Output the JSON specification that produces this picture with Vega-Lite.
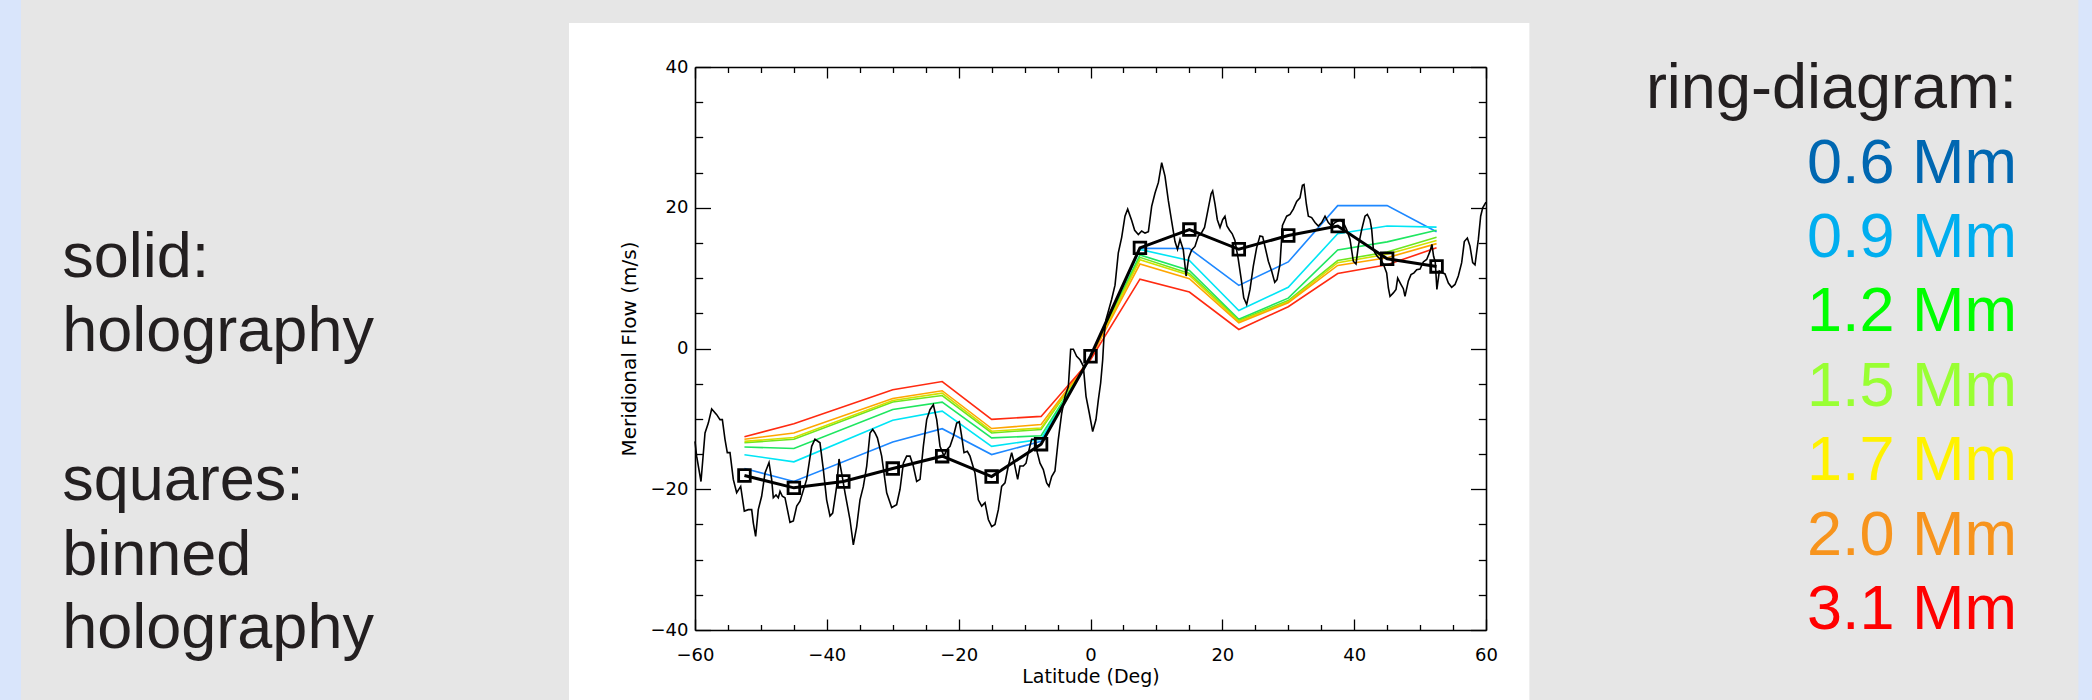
{
  "$schema": "https://vega.github.io/schema/vega-lite/v6.json",
  "width": 791,
  "height": 563,
  "autosize": {"type": "none"},
  "padding": {"left": 695, "top": 67, "right": 606, "bottom": 70},
  "background": "#e6e6e6",
  "config": {"view": {"stroke": null}},
  "datasets": {
    "holo": [
      {"lat":-60.0,"v":-13.2},{"lat":-59.75,"v":-15.3},{"lat":-59.09,"v":-18.9},{"lat":-58.48,"v":-12.0},{"lat":-57.98,"v":-10.6},{"lat":-57.47,"v":-8.6},{"lat":-56.71,"v":-9.4},{"lat":-56.21,"v":-10.1},{"lat":-55.85,"v":-10.1},{"lat":-55.45,"v":-12.9},{"lat":-55.1,"v":-14.8},{"lat":-54.69,"v":-14.8},{"lat":-54.19,"v":-18.6},{"lat":-53.68,"v":-20.5},{"lat":-53.07,"v":-19.6},{"lat":-52.52,"v":-23.1},{"lat":-51.91,"v":-22.9},{"lat":-51.4,"v":-22.9},{"lat":-51.15,"v":-24.8},{"lat":-50.8,"v":-26.7},{"lat":-50.4,"v":-22.9},{"lat":-49.89,"v":-21.0},{"lat":-49.38,"v":-17.7},{"lat":-48.77,"v":-16.2},{"lat":-48.37,"v":-18.6},{"lat":-48.12,"v":-21.2},{"lat":-47.71,"v":-20.8},{"lat":-47.36,"v":-21.2},{"lat":-47.1,"v":-20.3},{"lat":-46.75,"v":-21.0},{"lat":-46.35,"v":-21.2},{"lat":-45.59,"v":-24.7},{"lat":-45.08,"v":-24.5},{"lat":-44.57,"v":-22.4},{"lat":-44.07,"v":-21.7},{"lat":-43.06,"v":-18.6},{"lat":-42.3,"v":-13.9},{"lat":-41.8,"v":-12.9},{"lat":-41.04,"v":-13.4},{"lat":-40.53,"v":-17.2},{"lat":-40.03,"v":-21.5},{"lat":-39.52,"v":-23.8},{"lat":-39.11,"v":-23.4},{"lat":-38.51,"v":-19.6},{"lat":-38.15,"v":-15.7},{"lat":-37.75,"v":-17.7},{"lat":-37.24,"v":-20.5},{"lat":-36.49,"v":-24.3},{"lat":-35.98,"v":-27.9},{"lat":-35.47,"v":-25.3},{"lat":-34.97,"v":-21.5},{"lat":-34.46,"v":-19.6},{"lat":-33.95,"v":-16.7},{"lat":-33.45,"v":-12.0},{"lat":-33.04,"v":-11.5},{"lat":-32.69,"v":-12.0},{"lat":-32.33,"v":-12.7},{"lat":-31.68,"v":-15.3},{"lat":-30.92,"v":-20.5},{"lat":-30.16,"v":-22.6},{"lat":-29.41,"v":-22.2},{"lat":-28.9,"v":-20.0},{"lat":-28.39,"v":-16.3},{"lat":-27.89,"v":-15.3},{"lat":-27.38,"v":-15.3},{"lat":-26.88,"v":-16.7},{"lat":-26.37,"v":-18.9},{"lat":-25.86,"v":-18.6},{"lat":-25.36,"v":-13.9},{"lat":-24.85,"v":-10.1},{"lat":-24.35,"v":-8.7},{"lat":-23.84,"v":-8.0},{"lat":-23.33,"v":-10.1},{"lat":-22.83,"v":-13.9},{"lat":-22.22,"v":-15.3},{"lat":-21.82,"v":-14.4},{"lat":-21.31,"v":-13.9},{"lat":-20.81,"v":-12.5},{"lat":-20.3,"v":-10.6},{"lat":-19.9,"v":-10.4},
      {"lat":-19.54,"v":-12.5},{"lat":-19.19,"v":-14.8},{"lat":-18.69,"v":-14.6},{"lat":-18.28,"v":-15.3},{"lat":-17.52,"v":-17.7},{"lat":-17.02,"v":-21.5},{"lat":-16.51,"v":-22.4},{"lat":-16.0,"v":-21.9},{"lat":-15.5,"v":-24.3},{"lat":-14.99,"v":-25.3},{"lat":-14.49,"v":-25.0},{"lat":-13.98,"v":-22.9},{"lat":-13.48,"v":-19.6},{"lat":-12.97,"v":-19.1},{"lat":-12.47,"v":-16.7},{"lat":-11.96,"v":-14.8},{"lat":-11.56,"v":-16.3},{"lat":-11.05,"v":-18.6},{"lat":-10.7,"v":-16.7},{"lat":-10.19,"v":-16.7},{"lat":-9.78,"v":-16.3},{"lat":-9.43,"v":-14.8},{"lat":-8.93,"v":-12.9},{"lat":-8.42,"v":-12.9},{"lat":-8.07,"v":-14.8},{"lat":-7.66,"v":-16.3},{"lat":-7.16,"v":-17.2},{"lat":-6.65,"v":-19.1},{"lat":-6.3,"v":-19.6},{"lat":-5.89,"v":-18.2},{"lat":-5.39,"v":-17.4},{"lat":-4.88,"v":-12.9},{"lat":-4.37,"v":-9.2},{"lat":-3.87,"v":-6.8},{"lat":-3.36,"v":-5.4},{"lat":-3.01,"v":-0.1},{"lat":-2.6,"v":-0.1},{"lat":-2.1,"v":-1.1},{"lat":-1.59,"v":-1.6},{"lat":-1.09,"v":-2.5},{"lat":-0.68,"v":-6.8},{"lat":-0.18,"v":-9.2},{"lat":0.33,"v":-11.8},{"lat":0.83,"v":-10.1},{"lat":1.19,"v":-7.3},{"lat":1.54,"v":-4.9},{"lat":1.85,"v":-1.6},{"lat":2.05,"v":1.75},{"lat":2.35,"v":4.1},{"lat":2.71,"v":5.3},{"lat":3.21,"v":7.0},{"lat":3.72,"v":9.0},{"lat":4.22,"v":13.6},{"lat":4.73,"v":15.8},{"lat":5.23,"v":18.8},{"lat":5.64,"v":19.8},{"lat":6.25,"v":18.2},{"lat":6.7,"v":16.8},{"lat":7.26,"v":16.2},{"lat":7.76,"v":16.7},{"lat":8.27,"v":16.4},{"lat":8.78,"v":16.6},{"lat":9.28,"v":20.2},{"lat":9.79,"v":22.1},{"lat":10.3,"v":23.6},{"lat":10.8,"v":26.4},{"lat":11.3,"v":24.5},{"lat":11.81,"v":21.0},{"lat":12.31,"v":18.1},{"lat":12.82,"v":15.2},{"lat":13.2,"v":14.1},{"lat":13.58,"v":15.5},{"lat":14.08,"v":14.0},{"lat":14.5,"v":10.3},{"lat":14.9,"v":12.9},{"lat":15.35,"v":14.0},{"lat":15.85,"v":14.5},{"lat":16.36,"v":16.0},{"lat":16.71,"v":16.2},{"lat":17.3,"v":17.2},{"lat":17.8,"v":19.6},{"lat":18.3,"v":22.0},{"lat":18.53,"v":22.4},{"lat":18.89,"v":20.5},{"lat":19.24,"v":18.3},{"lat":19.65,"v":17.2},
      {"lat":20.05,"v":18.3},{"lat":20.4,"v":18.8},{"lat":20.7,"v":17.4},{"lat":21.1,"v":16.8},{"lat":21.5,"v":16.3},{"lat":21.9,"v":15.4},{"lat":22.4,"v":12.8},{"lat":22.9,"v":9.6},{"lat":23.25,"v":7.2},{"lat":23.69,"v":6.25},{"lat":24.2,"v":8.4},{"lat":24.7,"v":11.7},{"lat":25.2,"v":14.3},{"lat":25.71,"v":16.0},{"lat":26.12,"v":15.9},{"lat":26.47,"v":14.5},{"lat":26.98,"v":12.4},{"lat":27.48,"v":11.0},{"lat":27.95,"v":9.4},{"lat":28.3,"v":9.8},{"lat":28.75,"v":12.0},{"lat":29.12,"v":17.5},{"lat":29.51,"v":18.3},{"lat":29.76,"v":18.8},{"lat":30.27,"v":19.05},{"lat":30.77,"v":19.8},{"lat":31.28,"v":20.9},{"lat":31.78,"v":21.4},{"lat":32.15,"v":23.2},{"lat":32.39,"v":23.3},{"lat":32.75,"v":20.5},{"lat":33.05,"v":18.8},{"lat":33.55,"v":18.6},{"lat":34.06,"v":17.9},{"lat":34.56,"v":17.4},{"lat":35.07,"v":17.9},{"lat":35.58,"v":18.8},{"lat":36.08,"v":17.9},{"lat":36.59,"v":17.4},{"lat":37.09,"v":17.9},{"lat":37.85,"v":18.3},{"lat":38.36,"v":17.9},{"lat":38.86,"v":16.9},{"lat":39.37,"v":15.5},{"lat":39.87,"v":12.4},{"lat":40.28,"v":12.0},{"lat":40.63,"v":14.55},{"lat":41.14,"v":16.9},{"lat":41.64,"v":18.8},{"lat":42.0,"v":19.05},{"lat":42.4,"v":18.3},{"lat":42.66,"v":16.9},{"lat":42.91,"v":14.1},{"lat":43.16,"v":13.6},{"lat":43.5,"v":13.1},{"lat":44.0,"v":12.65},{"lat":44.43,"v":12.0},{"lat":44.93,"v":10.75},{"lat":45.19,"v":8.6},{"lat":45.44,"v":7.4},{"lat":45.94,"v":7.9},{"lat":46.35,"v":8.4},{"lat":46.6,"v":10.0},{"lat":47.05,"v":9.2},{"lat":47.46,"v":8.5},{"lat":47.71,"v":7.4},{"lat":48.22,"v":9.6},{"lat":48.62,"v":10.5},{"lat":49.08,"v":10.75},{"lat":49.48,"v":11.2},{"lat":49.99,"v":11.3},{"lat":50.49,"v":12.3},{"lat":51.0,"v":12.65},{"lat":51.5,"v":13.8},{"lat":51.8,"v":14.8},{"lat":52.05,"v":13.1},{"lat":52.3,"v":12.3},{"lat":52.55,"v":8.4},{"lat":52.92,"v":11.0},{"lat":53.3,"v":10.8},{"lat":53.78,"v":10.6},{"lat":54.29,"v":9.3},{"lat":54.79,"v":8.7},{"lat":55.3,"v":9.1},{"lat":55.8,"v":10.3},{"lat":56.31,"v":12.2},{"lat":56.71,"v":15.2},{"lat":57.17,"v":15.7},{"lat":57.57,"v":14.55},{"lat":57.98,"v":12.2},{"lat":58.33,"v":11.9},{"lat":58.84,"v":15.5},{"lat":59.19,"v":18.8},{"lat":59.5,"v":20.0},{"lat":60.0,"v":20.8}
    ],
    "binned": [
      {"lat":-52.5,"v":-18.05},{"lat":-45,"v":-19.8},{"lat":-37.5,"v":-18.9},{"lat":-30,"v":-17.06},{"lat":-22.5,"v":-15.3},{"lat":-15,"v":-18.2},{"lat":-7.5,"v":-13.6},{"lat":0,"v":-1.1},{"lat":7.5,"v":14.3},{"lat":15,"v":16.9},{"lat":22.5,"v":14.1},{"lat":30,"v":16.06},{"lat":37.5,"v":17.4},{"lat":45,"v":12.75},{"lat":52.5,"v":11.66}
    ],
    "ring": [
      {"depth":"0.6 Mm","lat":-52.5,"v":-17.05},{"depth":"0.6 Mm","lat":-45,"v":-18.9},{"depth":"0.6 Mm","lat":-30,"v":-13.3},{"depth":"0.6 Mm","lat":-22.5,"v":-11.4},{"depth":"0.6 Mm","lat":-15,"v":-15.07},{"depth":"0.6 Mm","lat":-7.5,"v":-13.2},{"depth":"0.6 Mm","lat":0,"v":-1.3},{"depth":"0.6 Mm","lat":7.5,"v":14.25},{"depth":"0.6 Mm","lat":15,"v":14.2},{"depth":"0.6 Mm","lat":22.5,"v":8.96},{"depth":"0.6 Mm","lat":30,"v":12.3},{"depth":"0.6 Mm","lat":37.5,"v":20.3},{"depth":"0.6 Mm","lat":45,"v":20.3},{"depth":"0.6 Mm","lat":52.5,"v":16.6},
      {"depth":"0.9 Mm","lat":-52.5,"v":-15.1},{"depth":"0.9 Mm","lat":-45,"v":-16.1},{"depth":"0.9 Mm","lat":-30,"v":-10.2},{"depth":"0.9 Mm","lat":-22.5,"v":-8.9},{"depth":"0.9 Mm","lat":-15,"v":-13.9},{"depth":"0.9 Mm","lat":-7.5,"v":-12.9},{"depth":"0.9 Mm","lat":0,"v":-1.3},{"depth":"0.9 Mm","lat":7.5,"v":14.07},{"depth":"0.9 Mm","lat":15,"v":12.5},{"depth":"0.9 Mm","lat":22.5,"v":5.4},{"depth":"0.9 Mm","lat":30,"v":8.7},{"depth":"0.9 Mm","lat":37.5,"v":16.3},{"depth":"0.9 Mm","lat":45,"v":17.4},{"depth":"0.9 Mm","lat":52.5,"v":17.25},
      {"depth":"1.2 Mm","lat":-52.5,"v":-14.0},{"depth":"1.2 Mm","lat":-45,"v":-14.2},{"depth":"1.2 Mm","lat":-30,"v":-8.67},{"depth":"1.2 Mm","lat":-22.5,"v":-7.63},{"depth":"1.2 Mm","lat":-15,"v":-12.7},{"depth":"1.2 Mm","lat":-7.5,"v":-12.4},{"depth":"1.2 Mm","lat":0,"v":-1.3},{"depth":"1.2 Mm","lat":7.5,"v":13.3},{"depth":"1.2 Mm","lat":15,"v":11.1},{"depth":"1.2 Mm","lat":22.5,"v":4.15},{"depth":"1.2 Mm","lat":30,"v":7.15},{"depth":"1.2 Mm","lat":37.5,"v":14.0},{"depth":"1.2 Mm","lat":45,"v":15.15},{"depth":"1.2 Mm","lat":52.5,"v":16.8},
      {"depth":"1.5 Mm","lat":-52.5,"v":-13.4},{"depth":"1.5 Mm","lat":-45,"v":-12.9},{"depth":"1.5 Mm","lat":-30,"v":-7.6},{"depth":"1.5 Mm","lat":-22.5,"v":-6.68},{"depth":"1.5 Mm","lat":-15,"v":-12.0},{"depth":"1.5 Mm","lat":-7.5,"v":-11.5},{"depth":"1.5 Mm","lat":0,"v":-1.3},{"depth":"1.5 Mm","lat":7.5,"v":12.95},{"depth":"1.5 Mm","lat":15,"v":10.66},{"depth":"1.5 Mm","lat":22.5,"v":3.98},{"depth":"1.5 Mm","lat":30,"v":6.82},{"depth":"1.5 Mm","lat":37.5,"v":12.5},{"depth":"1.5 Mm","lat":45,"v":13.7},{"depth":"1.5 Mm","lat":52.5,"v":15.8},
      {"depth":"1.7 Mm","lat":-52.5,"v":-13.2},{"depth":"1.7 Mm","lat":-45,"v":-12.65},{"depth":"1.7 Mm","lat":-30,"v":-7.4},{"depth":"1.7 Mm","lat":-22.5,"v":-6.35},{"depth":"1.7 Mm","lat":-15,"v":-11.75},{"depth":"1.7 Mm","lat":-7.5,"v":-11.3},{"depth":"1.7 Mm","lat":0,"v":-1.3},{"depth":"1.7 Mm","lat":7.5,"v":12.6},{"depth":"1.7 Mm","lat":15,"v":10.4},{"depth":"1.7 Mm","lat":22.5,"v":3.84},{"depth":"1.7 Mm","lat":30,"v":6.64},{"depth":"1.7 Mm","lat":37.5,"v":12.2},{"depth":"1.7 Mm","lat":45,"v":13.4},{"depth":"1.7 Mm","lat":52.5,"v":15.35},
      {"depth":"2.0 Mm","lat":-52.5,"v":-12.9},{"depth":"2.0 Mm","lat":-45,"v":-12.0},{"depth":"2.0 Mm","lat":-30,"v":-7.1},{"depth":"2.0 Mm","lat":-22.5,"v":-6.0},{"depth":"2.0 Mm","lat":-15,"v":-11.37},{"depth":"2.0 Mm","lat":-7.5,"v":-10.8},{"depth":"2.0 Mm","lat":0,"v":-1.4},{"depth":"2.0 Mm","lat":7.5,"v":12.0},{"depth":"2.0 Mm","lat":15,"v":9.92},{"depth":"2.0 Mm","lat":22.5,"v":3.65},{"depth":"2.0 Mm","lat":30,"v":6.5},{"depth":"2.0 Mm","lat":37.5,"v":11.8},{"depth":"2.0 Mm","lat":45,"v":12.9},{"depth":"2.0 Mm","lat":52.5,"v":14.9},
      {"depth":"3.1 Mm","lat":-52.5,"v":-12.55},{"depth":"3.1 Mm","lat":-45,"v":-10.7},{"depth":"3.1 Mm","lat":-30,"v":-5.87},{"depth":"3.1 Mm","lat":-22.5,"v":-4.69},{"depth":"3.1 Mm","lat":-15,"v":-10.07},{"depth":"3.1 Mm","lat":-7.5,"v":-9.65},{"depth":"3.1 Mm","lat":0,"v":-1.6},{"depth":"3.1 Mm","lat":7.5,"v":9.85},{"depth":"3.1 Mm","lat":15,"v":8.03},{"depth":"3.1 Mm","lat":22.5,"v":2.7},{"depth":"3.1 Mm","lat":30,"v":5.93},{"depth":"3.1 Mm","lat":37.5,"v":10.66},{"depth":"3.1 Mm","lat":45,"v":11.9},{"depth":"3.1 Mm","lat":52.5,"v":14.3}
    ]
  },
  "resolve": {"axis": {"x": "independent", "y": "independent"}},
  "layer": [
    {"data": {"values": [{}]}, "mark": {"type": "rect", "color": "#ffffff"},
     "encoding": {"x": {"datum": -79.115, "type": "quantitative", "scale": {"domain": [-60, 60], "nice": false, "zero": false}, "axis": null}, "x2": {"datum": 66.58},
                  "y": {"datum": 46.25, "type": "quantitative", "scale": {"domain": [-40, 40], "nice": false, "zero": false}, "axis": null}, "y2": {"datum": -55}}},
    {"data": {"values": [{}]}, "mark": {"type": "rect", "color": "#d9e5fb"},
     "encoding": {"x": {"datum": -175, "type": "quantitative", "scale": {"domain": [-60, 60], "nice": false, "zero": false}, "axis": null}, "x2": {"datum": -162.25},
                  "y": {"datum": 55, "type": "quantitative", "scale": {"domain": [-40, 40], "nice": false, "zero": false}, "axis": null}, "y2": {"datum": -55}}},
    {"data": {"values": [{}]}, "mark": {"type": "rect", "color": "#d9e5fb"},
     "encoding": {"x": {"datum": 149.87, "type": "quantitative", "scale": {"domain": [-60, 60], "nice": false, "zero": false}, "axis": null}, "x2": {"datum": 165},
                  "y": {"datum": 55, "type": "quantitative", "scale": {"domain": [-40, 40], "nice": false, "zero": false}, "axis": null}, "y2": {"datum": -55}}},
    {"data": {"name": "ring"}, "mark": {"type": "line", "strokeWidth": 1.6},
     "encoding": {
       "x": {"field": "lat", "type": "quantitative", "scale": {"domain": [-60, 60], "nice": false, "zero": false},
             "axis": {"orient": "top", "values": [-55,-50,-45,-35,-30,-25,-15,-10,-5,5,10,15,25,30,35,45,50,55], "tickSize": -5.5, "tickWidth": 1.3, "tickColor": "#000", "domain": false, "labels": false, "grid": false, "title": null, "zindex": 1}},
       "y": {"field": "v", "type": "quantitative", "scale": {"domain": [-40, 40], "nice": false, "zero": false},
             "axis": {"orient": "right", "values": [-35,-30,-25,-15,-10,-5,5,10,15,25,30,35], "tickSize": -7.7, "tickWidth": 1.3, "tickColor": "#000", "domain": false, "labels": false, "grid": false, "title": null, "zindex": 1}},
       "color": {"field": "depth", "type": "nominal", "legend": null,
                 "scale": {"domain": ["0.6 Mm","0.9 Mm","1.2 Mm","1.5 Mm","1.7 Mm","2.0 Mm","3.1 Mm"],
                           "range": ["#1e88ff","#00e5f5","#1ee660","#6ee61e","#d2e000","#ffa500","#ff2a10"]}}
     }},
    {"data": {"name": "holo"}, "mark": {"type": "line", "color": "#000000", "strokeWidth": 1.6},
     "encoding": {
       "x": {"field": "lat", "type": "quantitative", "scale": {"domain": [-60, 60], "nice": false, "zero": false},
             "axis": {"orient": "bottom", "values": [-60,-40,-20,0,20,40,60], "tickSize": -11, "tickWidth": 1.3, "tickColor": "#000", "domain": true, "domainColor": "#000", "domainWidth": 1.6,
                      "labelFont": "DejaVu Sans", "labelFontSize": 18, "labelColor": "#000", "labelPadding": 27, "labelFlush": false, "labelOverlap": false, "labelBound": false, "grid": false,
                      "title": "Latitude (Deg)", "titleFont": "DejaVu Sans", "titleFontSize": 19, "titleFontWeight": "normal", "titleColor": "#000", "titlePadding": 3, "zindex": 1}},
       "y": {"field": "v", "type": "quantitative", "scale": {"domain": [-40, 40], "nice": false, "zero": false},
             "axis": {"orient": "left", "values": [-40,-20,0,20,40], "tickSize": -15.5, "tickWidth": 1.3, "tickColor": "#000", "domain": true, "domainColor": "#000", "domainWidth": 1.6,
                      "labelFont": "DejaVu Sans", "labelFontSize": 18, "labelColor": "#000", "labelPadding": 22.5, "labelFlush": false, "labelOverlap": false, "labelBound": false, "grid": false,
                      "title": "Meridional Flow (m/s)", "titleFont": "DejaVu Sans", "titleFontSize": 20, "titleFontWeight": "normal", "titleColor": "#000", "titlePadding": 11, "zindex": 1}}
     }},
    {"data": {"name": "binned"}, "mark": {"type": "line", "color": "#000000", "strokeWidth": 3},
     "encoding": {
       "x": {"field": "lat", "type": "quantitative", "scale": {"domain": [-60, 60], "nice": false, "zero": false},
             "axis": {"orient": "bottom", "values": [-55,-50,-45,-35,-30,-25,-15,-10,-5,5,10,15,25,30,35,45,50,55], "tickSize": -5.5, "tickWidth": 1.3, "tickColor": "#000", "domain": false, "labels": false, "grid": false, "title": null, "zindex": 1}},
       "y": {"field": "v", "type": "quantitative", "scale": {"domain": [-40, 40], "nice": false, "zero": false},
             "axis": {"orient": "left", "values": [-35,-30,-25,-15,-10,-5,5,10,15,25,30,35], "tickSize": -7.7, "tickWidth": 1.3, "tickColor": "#000", "domain": false, "labels": false, "grid": false, "title": null, "zindex": 1}}
     }},
    {"data": {"name": "binned"}, "mark": {"type": "point", "shape": "square", "size": 135, "filled": false, "color": "#000000", "strokeWidth": 2.8, "opacity": 1},
     "encoding": {
       "x": {"field": "lat", "type": "quantitative", "scale": {"domain": [-60, 60], "nice": false, "zero": false},
             "axis": {"orient": "top", "values": [-60,-40,-20,0,20,40,60], "tickSize": -11, "tickWidth": 1.3, "tickColor": "#000", "domain": true, "domainColor": "#000", "domainWidth": 1.6, "labels": false, "grid": false, "title": null, "zindex": 1}},
       "y": {"field": "v", "type": "quantitative", "scale": {"domain": [-40, 40], "nice": false, "zero": false},
             "axis": {"orient": "right", "values": [-40,-20,0,20,40], "tickSize": -15.5, "tickWidth": 1.3, "tickColor": "#000", "domain": true, "domainColor": "#000", "domainWidth": 1.6, "labels": false, "grid": false, "title": null, "zindex": 1}}
     }},
    {"data": {"values": [{}]}, "mark": {"type": "text", "text": "solid:", "align": "left", "baseline": "alphabetic", "font": "Liberation Sans", "fontSize": 63, "color": "#231f20"},
     "encoding": {"x": {"datum": -156.0, "type": "quantitative", "scale": {"domain": [-60, 60], "nice": false, "zero": false}, "axis": null}, "y": {"datum": 10.2, "type": "quantitative", "scale": {"domain": [-40, 40], "nice": false, "zero": false}, "axis": null}}},
    {"data": {"values": [{}]}, "mark": {"type": "text", "text": "holography", "align": "left", "baseline": "alphabetic", "font": "Liberation Sans", "fontSize": 63, "color": "#231f20"},
     "encoding": {"x": {"datum": -156.0, "type": "quantitative", "scale": {"domain": [-60, 60], "nice": false, "zero": false}, "axis": null}, "y": {"datum": -0.31, "type": "quantitative", "scale": {"domain": [-40, 40], "nice": false, "zero": false}, "axis": null}}},
    {"data": {"values": [{}]}, "mark": {"type": "text", "text": "squares:", "align": "left", "baseline": "alphabetic", "font": "Liberation Sans", "fontSize": 63, "color": "#231f20"},
     "encoding": {"x": {"datum": -156.0, "type": "quantitative", "scale": {"domain": [-60, 60], "nice": false, "zero": false}, "axis": null}, "y": {"datum": -21.53, "type": "quantitative", "scale": {"domain": [-40, 40], "nice": false, "zero": false}, "axis": null}}},
    {"data": {"values": [{}]}, "mark": {"type": "text", "text": "binned", "align": "left", "baseline": "alphabetic", "font": "Liberation Sans", "fontSize": 63, "color": "#231f20"},
     "encoding": {"x": {"datum": -156.0, "type": "quantitative", "scale": {"domain": [-60, 60], "nice": false, "zero": false}, "axis": null}, "y": {"datum": -32.19, "type": "quantitative", "scale": {"domain": [-40, 40], "nice": false, "zero": false}, "axis": null}}},
    {"data": {"values": [{}]}, "mark": {"type": "text", "text": "holography", "align": "left", "baseline": "alphabetic", "font": "Liberation Sans", "fontSize": 63, "color": "#231f20"},
     "encoding": {"x": {"datum": -156.0, "type": "quantitative", "scale": {"domain": [-60, 60], "nice": false, "zero": false}, "axis": null}, "y": {"datum": -42.6, "type": "quantitative", "scale": {"domain": [-40, 40], "nice": false, "zero": false}, "axis": null}}},
    {"data": {"values": [{}]}, "mark": {"type": "text", "text": "ring-diagram:", "align": "right", "baseline": "alphabetic", "font": "Liberation Sans", "fontSize": 63, "color": "#231f20"},
     "encoding": {"x": {"datum": 140.56, "type": "quantitative", "scale": {"domain": [-60, 60], "nice": false, "zero": false}, "axis": null}, "y": {"datum": 34.13, "type": "quantitative", "scale": {"domain": [-40, 40], "nice": false, "zero": false}, "axis": null}}},
    {"data": {"values": [{}]}, "mark": {"type": "text", "text": "0.6 Mm", "align": "right", "baseline": "alphabetic", "font": "Liberation Sans", "fontSize": 63, "color": "#0067b1"},
     "encoding": {"x": {"datum": 140.56, "type": "quantitative", "scale": {"domain": [-60, 60], "nice": false, "zero": false}, "axis": null}, "y": {"datum": 23.56, "type": "quantitative", "scale": {"domain": [-40, 40], "nice": false, "zero": false}, "axis": null}}},
    {"data": {"values": [{}]}, "mark": {"type": "text", "text": "0.9 Mm", "align": "right", "baseline": "alphabetic", "font": "Liberation Sans", "fontSize": 63, "color": "#00aeef"},
     "encoding": {"x": {"datum": 140.56, "type": "quantitative", "scale": {"domain": [-60, 60], "nice": false, "zero": false}, "axis": null}, "y": {"datum": 13.04, "type": "quantitative", "scale": {"domain": [-40, 40], "nice": false, "zero": false}, "axis": null}}},
    {"data": {"values": [{}]}, "mark": {"type": "text", "text": "1.2 Mm", "align": "right", "baseline": "alphabetic", "font": "Liberation Sans", "fontSize": 63, "color": "#00ff00"},
     "encoding": {"x": {"datum": 140.56, "type": "quantitative", "scale": {"domain": [-60, 60], "nice": false, "zero": false}, "axis": null}, "y": {"datum": 2.53, "type": "quantitative", "scale": {"domain": [-40, 40], "nice": false, "zero": false}, "axis": null}}},
    {"data": {"values": [{}]}, "mark": {"type": "text", "text": "1.5 Mm", "align": "right", "baseline": "alphabetic", "font": "Liberation Sans", "fontSize": 63, "color": "#99ff33"},
     "encoding": {"x": {"datum": 140.56, "type": "quantitative", "scale": {"domain": [-60, 60], "nice": false, "zero": false}, "axis": null}, "y": {"datum": -8.17, "type": "quantitative", "scale": {"domain": [-40, 40], "nice": false, "zero": false}, "axis": null}}},
    {"data": {"values": [{}]}, "mark": {"type": "text", "text": "1.7 Mm", "align": "right", "baseline": "alphabetic", "font": "Liberation Sans", "fontSize": 63, "color": "#fff200"},
     "encoding": {"x": {"datum": 140.56, "type": "quantitative", "scale": {"domain": [-60, 60], "nice": false, "zero": false}, "axis": null}, "y": {"datum": -18.69, "type": "quantitative", "scale": {"domain": [-40, 40], "nice": false, "zero": false}, "axis": null}}},
    {"data": {"values": [{}]}, "mark": {"type": "text", "text": "2.0 Mm", "align": "right", "baseline": "alphabetic", "font": "Liberation Sans", "fontSize": 63, "color": "#f7941d"},
     "encoding": {"x": {"datum": 140.56, "type": "quantitative", "scale": {"domain": [-60, 60], "nice": false, "zero": false}, "axis": null}, "y": {"datum": -29.34, "type": "quantitative", "scale": {"domain": [-40, 40], "nice": false, "zero": false}, "axis": null}}},
    {"data": {"values": [{}]}, "mark": {"type": "text", "text": "3.1 Mm", "align": "right", "baseline": "alphabetic", "font": "Liberation Sans", "fontSize": 63, "color": "#ff0000"},
     "encoding": {"x": {"datum": 140.56, "type": "quantitative", "scale": {"domain": [-60, 60], "nice": false, "zero": false}, "axis": null}, "y": {"datum": -39.86, "type": "quantitative", "scale": {"domain": [-40, 40], "nice": false, "zero": false}, "axis": null}}}
  ]
}
